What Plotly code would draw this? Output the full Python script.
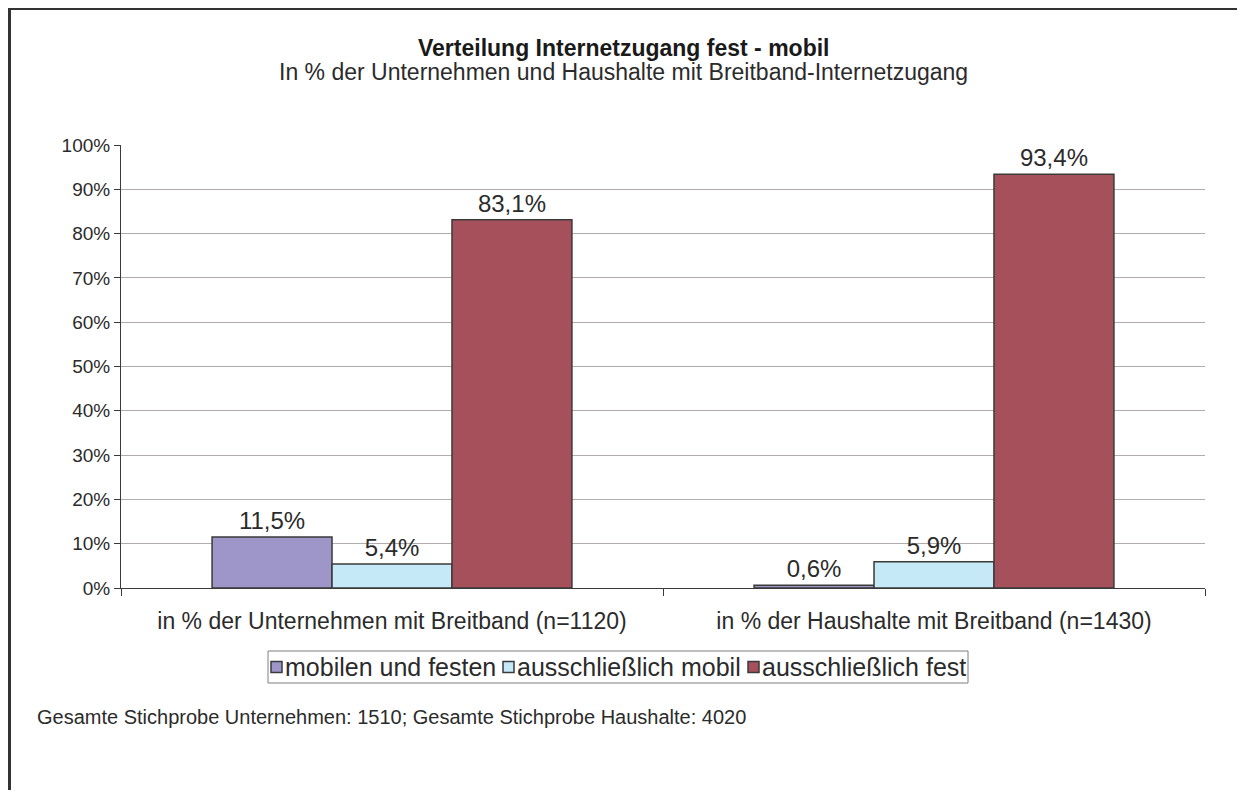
import plotly.graph_objects as go

categories = ["in % der Unternehmen mit Breitband (n=1120)",
              "in % der Haushalte mit Breitband (n=1430)"]
series_names = ["mobilen und festen", "ausschließlich mobil", "ausschließlich fest"]
mobil_und_fest = [11.5, 0.6]
nur_mobil = [5.4, 5.9]
nur_fest = [83.1, 93.4]
y_ticks = list(range(0, 101, 10))
y_tick_labels = [f"{v}%" for v in y_ticks]

colors = ["#9e95c8", "#c6e9f7", "#a6505c"]
values = [mobil_und_fest, nur_mobil, nur_fest]

# figure is placed at (8, 8) in the page by the default body margin
OFF = 8
W, H = 1229, 782
L, R, T, B = 113, 32, 137, 202
pw, ph = W - L - R, H - T - B

def px_x(x):  # page x -> paper
    return (x - OFF - L) / pw

def px_y(y):  # page y -> paper
    return (H - B - (y - OFF)) / ph

FONT = "Liberation Sans, Arial, sans-serif"
TXT = "#2b2b2b"
EDGE = "#3a3a3a"

fig = go.Figure()
for name, vals, col in zip(series_names, values, colors):
    fig.add_trace(go.Bar(
        x=categories, y=vals, name=name,
        marker=dict(color=col, line=dict(color=EDGE, width=1.5)),
        texttemplate="%{y:.1f}%", textposition="outside",
        textfont=dict(size=24, color=TXT, family=FONT),
        cliponaxis=False, showlegend=False,
    ))

# compact legend (Excel style): box, small squares and labels
LEG_FONT = 25
leg_box = (268, 651, 968, 683)
leg_square_x = [271, 503, 748]
leg_cy = 667
shapes = [
    dict(type="rect", xref="paper", yref="paper",
         x0=px_x(leg_box[0]), x1=px_x(leg_box[2]),
         y0=px_y(leg_box[1]), y1=px_y(leg_box[3]),
         line=dict(color="#7f7f7f", width=1), fillcolor="white"),
]
annotations = []
for sx, name, col in zip(leg_square_x, series_names, colors):
    shapes.append(dict(type="rect", xref="paper", yref="paper",
                       x0=px_x(sx), x1=px_x(sx + 11),
                       y0=px_y(leg_cy - 5.5), y1=px_y(leg_cy + 5.5),
                       line=dict(color=EDGE, width=1.5), fillcolor=col))
    annotations.append(dict(text=name, xref="paper", yref="paper",
                            x=px_x(sx + 12), y=px_y(leg_cy), xanchor="left", yanchor="middle",
                            showarrow=False, font=dict(size=LEG_FONT, color=TXT)))

# outer frame: only the top and left edges are inside the picture
frame = dict(color="#333333", width=3)
shapes.append(dict(type="line", xref="paper", yref="paper",
                   x0=px_x(8), x1=px_x(1260), y0=px_y(8.5), y1=px_y(8.5),
                   line=frame, layer="above"))
shapes.append(dict(type="line", xref="paper", yref="paper",
                   x0=px_x(9.5), x1=px_x(9.5), y0=px_y(7), y1=px_y(830),
                   line=frame, layer="above"))

annotations += [
    dict(text="<b>Verteilung Internetzugang fest - mobil</b>", xref="paper", yref="paper",
         x=px_x(623), y=px_y(48), xanchor="center", yanchor="middle",
         showarrow=False, font=dict(size=23, color="#1a1a1a")),
    dict(text="In % der Unternehmen und Haushalte mit Breitband-Internetzugang",
         xref="paper", yref="paper", x=px_x(623), y=px_y(72),
         xanchor="center", yanchor="middle", showarrow=False,
         font=dict(size=23, color=TXT)),
    dict(text="Gesamte Stichprobe Unternehmen: 1510; Gesamte Stichprobe Haushalte: 4020",
         xref="paper", yref="paper", x=px_x(35), y=px_y(717),
         xanchor="left", yanchor="middle", showarrow=False,
         font=dict(size=20, color=TXT)),
]

fig.update_layout(
    width=W, height=H,
    margin=dict(l=L, r=R, t=T, b=B),
    paper_bgcolor="white", plot_bgcolor="white",
    barmode="group", bargap=0.336, bargroupgap=0,
    separators=",.",
    font=dict(family=FONT, color=TXT),
    showlegend=False,
    xaxis=dict(showline=True, linecolor=EDGE, linewidth=1,
               ticks="outside", tickson="boundaries", ticklen=7, tickcolor=EDGE,
               tickfont=dict(size=23, color=TXT), ticklabelstandoff=12,
               showgrid=False),
    yaxis=dict(range=[0, 100], tickmode="array", tickvals=y_ticks, ticktext=y_tick_labels,
               showline=True, linecolor=EDGE, linewidth=1,
               ticks="outside", ticklen=6, tickcolor=EDGE,
               tickfont=dict(size=19, color=TXT),
               showgrid=True, gridcolor="#b4acac", gridwidth=1,
               zeroline=False),
    annotations=annotations,
    shapes=shapes,
)

fig.write_html("out.html")
